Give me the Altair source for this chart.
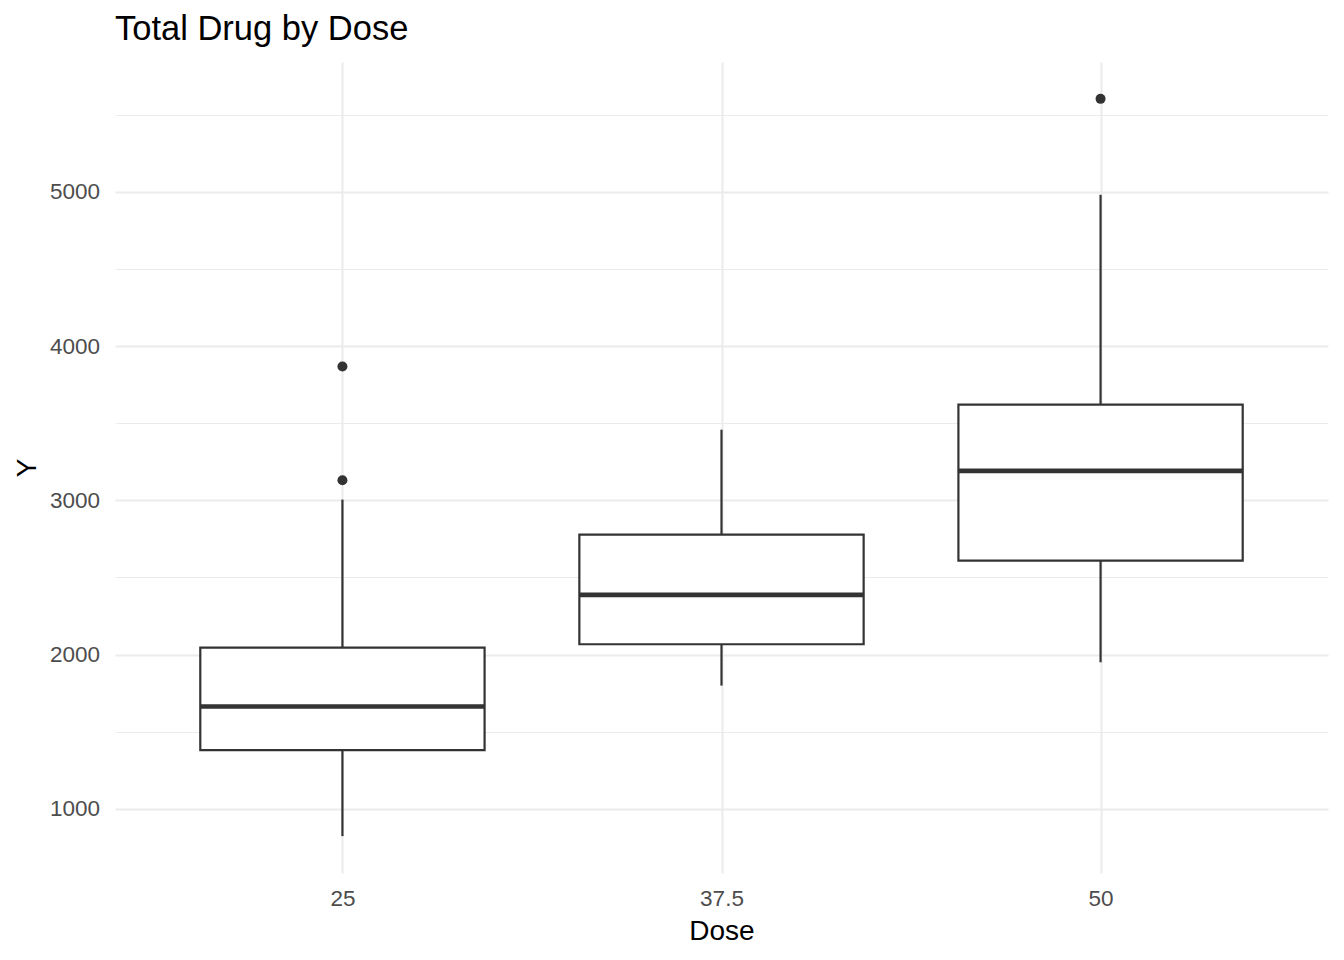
import altair as alt
import pandas as pd

# Box statistics
doses = [25, 37.5, 50]
lower = [823, 1799, 1950]
q1 = [1380, 2067, 2609]
median = [1663, 2387, 3191]
q3 = [2045, 2778, 3620]
upper = [3005, 3458, 4981]

outlier_dose = [25, 25, 50]
outlier_value = [3130, 3868, 5603]

y_all = [1000, 1500, 2000, 2500, 3000, 3500, 4000, 4500, 5000, 5500]

FONT = "Liberation Sans"
INK = "#333333"
GRID = "#EBEBEB"

box_df = pd.DataFrame({"dose": doses, "lower": lower, "q1": q1,
                       "median": median, "q3": q3, "upper": upper})
out_df = pd.DataFrame({"dose": outlier_dose, "value": outlier_value})

x_scale = alt.Scale(domain=[17.5, 57.5], nice=False, zero=False)
y_scale = alt.Scale(domain=[584, 5842], nice=False, zero=False)

x_axis = alt.Axis(values=doses, labelExpr="'' + datum.value", title="Dose",
                  grid=True, gridColor=GRID, gridWidth=2, domain=False,
                  ticks=False, tickSize=0, labelPadding=14, labelFontSize=22.5,
                  labelColor="#4D4D4D", labelFont=FONT, titleFont=FONT,
                  titleFontSize=28, titleFontWeight="normal",
                  titleColor="black", titlePadding=8)
y_axis = alt.Axis(values=y_all, title="Y", grid=True, gridColor=GRID,
                  gridWidth={"condition": {"test": "datum.value % 1000 === 0", "value": 2}, "value": 1},
                  labelExpr="datum.value % 1000 === 0 ? datum.label : ''",
                  format="d", domain=False, ticks=False, tickSize=0,
                  labelPadding=15.5, labelFontSize=22.5, labelColor="#4D4D4D",
                  labelFont=FONT, titleFont=FONT, titleFontSize=28,
                  titleFontWeight="normal", titleColor="black", titlePadding=8)

base = alt.Chart(box_df).transform_calculate(
    lo="datum.dose - 12.5*0.375", hi="datum.dose + 12.5*0.375"
)

whisk_lo = base.mark_rule(color=INK, strokeWidth=2.2).encode(
    x=alt.X("dose:Q", scale=x_scale, axis=x_axis),
    y=alt.Y("lower:Q", scale=y_scale, axis=y_axis),
    y2="q1:Q",
)
whisk_hi = base.mark_rule(color=INK, strokeWidth=2.2).encode(
    x=alt.X("dose:Q", scale=x_scale),
    y=alt.Y("q3:Q", scale=y_scale),
    y2="upper:Q",
)
box = base.mark_rect(fill="white", stroke=INK, strokeWidth=2.2).encode(
    x=alt.X("lo:Q", scale=x_scale),
    x2="hi:Q",
    y=alt.Y("q1:Q", scale=y_scale),
    y2="q3:Q",
)
med = base.mark_rule(color=INK, strokeWidth=4.6).encode(
    x=alt.X("lo:Q", scale=x_scale),
    x2="hi:Q",
    y=alt.Y("median:Q", scale=y_scale),
)
pts = alt.Chart(out_df).mark_circle(color=INK, opacity=1, size=100).encode(
    x=alt.X("dose:Q", scale=x_scale),
    y=alt.Y("value:Q", scale=y_scale),
)

chart = alt.layer(whisk_lo, whisk_hi, box, med, pts).properties(
    width=1213,
    height=811,
    background="white",
    title=alt.TitleParams("Total Drug by Dose", anchor="start", frame="group",
                          font=FONT, fontSize=34.5, fontWeight="normal",
                          color="black", baseline="alphabetic", offset=-12),
    autosize=alt.AutoSizeParams(type="none"),
    padding={"left": 107, "top": 54, "right": 8, "bottom": 76},
).configure_view(strokeWidth=0)

chart.save("out.html", embed_options={"renderer": "svg", "actions": False})
